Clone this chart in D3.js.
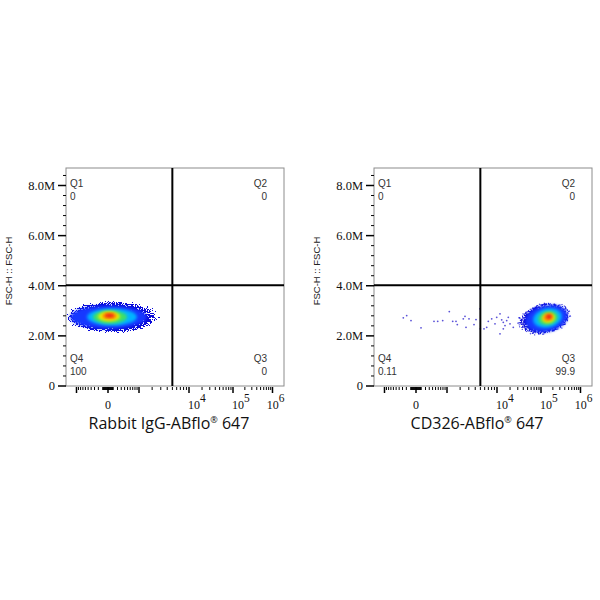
<!DOCTYPE html>
<html>
<head>
<meta charset="utf-8">
<script src="https://cdn.jsdelivr.net/npm/d3@7"></script>
<style>
  body { margin: 0; background: #fff; }
  svg { display: block; }
</style>
</head>
<body>
<svg id="chart" width="600" height="600"></svg>
<script>
/* axis ticks */
var yTickValues = [0, 2e6, 4e6, 6e6, 8e6];
var yTickLabels = ['0', '2.0M', '4.0M', '6.0M', '8.0M'];
var yMinorValues = [0.4e6, 0.8e6, 1.2e6, 1.6e6, 2.4e6, 2.8e6, 3.2e6, 3.6e6, 4.4e6, 4.8e6, 5.2e6, 5.6e6, 6.4e6, 6.8e6, 7.2e6, 7.6e6, 8.4e6];
var xTickValues = [0, 1e4, 1e5, 1e6];
var xTickExponents = [null, 4, 5, 6];
var xMajorUnlabeled = [-1000, 1000];
var xMinorValues = [-900, -800, -700, -600, -500, -400, -300, -200, -100, -90, -80, -70, -60, -50, -40, -30, -20, -10,
  10, 20, 30, 40, 50, 60, 70, 80, 90, 100, 200, 300, 400, 500, 600, 700, 800, 900,
  2000, 3000, 4000, 5000, 6000, 7000, 8000, 9000, 20000, 30000, 40000, 50000, 60000, 70000, 80000, 90000,
  200000, 300000, 400000, 500000, 600000, 700000, 800000, 900000];

/* quadrant gate and statistics */
var gateX = 5100;
var gateY = 4.0e6;
var quadrantNames = ['Q1', 'Q2', 'Q3', 'Q4'];
var leftQuadrantValues = ['0', '0', '0', '100'];
var rightQuadrantValues = ['0', '0', '99.9', '0.11'];
var axisTitles = ['Rabbit IgG-ABflo', 'CD326-ABflo'];

/* density levels (outer -> core), [low, high] extents */
var leftCloudX = [[-1700, 2960], [-1350, 1590], [-520, 920], [-330, 500], [-196, 279], [-106, 200], [-46, 130]];
var leftCloudY = [[2.07e6, 3.39e6], [2.27e6, 3.19e6], [2.39e6, 3.07e6], [2.47e6, 2.99e6], [2.55e6, 2.95e6], [2.63e6, 2.91e6], [2.71e6, 2.87e6]];
var rightCloudX = [[29600, 627500], [44900, 497000], [67900, 350500], [87900, 277600], [109100, 233000], [115700, 207400], [137900, 195600]];
var rightCloudY = [[2.03e6, 3.31e6], [2.15e6, 3.19e6], [2.31e6, 3.07e6], [2.42e6, 2.96e6], [2.50e6, 2.88e6], [2.57e6, 2.87e6], [2.65e6, 2.84e6]];

/* sparse events in the CD326 plot */
var rightTrailX = [-265, -180, -85, 108, 463, 598, 811, 1173, 1409, 1671, 1784, 2384, 2582, 2704, 3100, 3874, 4228, 5025, 5090, 5955, 6670, 7130,
  8210, 9400, 10110, 12070, 13210, 14390, 17220, 12070, 14390, 18740, 20500, 24380, 15740];
var rightTrailY = [2.70, 2.79, 2.59, 2.30, 2.56, 2.56, 2.59, 2.95, 2.56, 2.56, 2.43, 2.66, 2.76, 2.32, 2.66, 2.43, 2.63, 3.06, 2.26, 2.26, 2.32, 2.56,
  2.66, 2.46, 2.72, 2.86, 2.62, 2.52, 2.59, 2.06, 2.26, 2.72, 2.46, 2.32, 2.39].map(function(v) { return v * 1e6; });

var levelColors = ['#0a0ad8', '#1238ff', '#00b4ff', '#3ce068', '#e6f000', '#ff9400', '#f02414'];

var W = 218, H = 218;
var svg = d3.select('#chart');
var defs = svg.append('defs');

/* speckled outer halo of the density plot */
var grad = defs.append('radialGradient').attr('id', 'fade');
grad.append('stop').attr('offset', '0').attr('stop-color', '#000').attr('stop-opacity', 1);
grad.append('stop').attr('offset', '0.6').attr('stop-color', '#000').attr('stop-opacity', 1);
grad.append('stop').attr('offset', '0.85').attr('stop-color', '#000').attr('stop-opacity', 0.65);
grad.append('stop').attr('offset', '1').attr('stop-color', '#000').attr('stop-opacity', 0.25);

var sp = defs.append('filter').attr('id', 'speckle')
  .attr('x', '-10%').attr('y', '-10%').attr('width', '120%').attr('height', '120%')
  .attr('color-interpolation-filters', 'sRGB');
sp.append('feTurbulence').attr('type', 'fractalNoise').attr('baseFrequency', 0.75)
  .attr('numOctaves', 2).attr('seed', 7).attr('result', 'noise');
sp.append('feColorMatrix').attr('in', 'noise').attr('type', 'matrix')
  .attr('values', '0 0 0 0 0  0 0 0 0 0  0 0 0 0 0  1.6 0 0 0 -0.3').attr('result', 'na');
sp.append('feComposite').attr('in', 'SourceGraphic').attr('in2', 'na').attr('operator', 'arithmetic')
  .attr('k1', 0).attr('k2', 1).attr('k3', -1).attr('k4', 0).attr('result', 'diff');
sp.append('feComponentTransfer').attr('in', 'diff').attr('result', 'mask')
  .append('feFuncA').attr('type', 'discrete').attr('tableValues', '0 1 1 1 1 1 1 1 1 1');
sp.append('feFlood').attr('flood-color', levelColors[0]).attr('result', 'col');
sp.append('feComposite').attr('in', 'col').attr('in2', 'mask').attr('operator', 'in');

defs.append('filter').attr('id', 'soft').attr('x', '-30%').attr('y', '-30%').attr('width', '160%').attr('height', '160%')
  .append('feGaussianBlur').attr('stdDeviation', 1.6);

var panels = [
  { left: 66, top: 168, title: axisTitles[0], cloudX: leftCloudX, cloudY: leftCloudY, tilt: 0,
    stats: leftQuadrantValues, trailX: [], trailY: [] },
  { left: 374, top: 168, title: axisTitles[1], cloudX: rightCloudX, cloudY: rightCloudY, tilt: -12,
    stats: rightQuadrantValues, trailX: rightTrailX, trailY: rightTrailY }
];

panels.forEach(function(p, idx) {
  var g = svg.append('g').attr('transform', 'translate(' + p.left + ',' + p.top + ')');

  // biexponential-looking axis: symlog, calibrated piecewise on the decades
  var x = d3.scaleSymlog().constant(500)
    .domain([-1000, 0, 1000, 1e4, 1e5, 1e6])
    .range([10, 41.5, 72.5, 122.5, 166.5, 206]);
  var y = d3.scaleLinear().domain([0, 8e6]).range([217.5, 17]);

  var clipId = 'clip' + idx;
  defs.append('clipPath').attr('id', clipId)
    .append('rect').attr('width', W).attr('height', H);

  var plot = g.append('g').attr('clip-path', 'url(#' + clipId + ')');

  p.cloudX.forEach(function(ext, i) {
    var x0 = x(ext[0]), x1 = x(ext[1]);
    var y0 = y(p.cloudY[i][0]), y1 = y(p.cloudY[i][1]);
    var cx = (x0 + x1) / 2, cy = (y0 + y1) / 2;
    plot.append('ellipse')
      .attr('cx', cx).attr('cy', cy)
      .attr('rx', (x1 - x0) / 2).attr('ry', (y0 - y1) / 2)
      .attr('transform', 'rotate(' + p.tilt + ',' + cx + ',' + cy + ')')
      .attr('fill', i === 0 ? 'url(#fade)' : levelColors[i])
      .attr('filter', i === 0 ? 'url(#speckle)' : 'url(#soft)');
  });

  plot.selectAll('circle.ev')
    .data(p.trailX)
    .enter().append('circle')
    .attr('class', 'ev')
    .attr('cx', function(d) { return x(d); })
    .attr('cy', function(d, i) { return y(p.trailY[i]); })
    .attr('r', 0.9)
    .attr('fill', '#5a52d8');

  // box
  g.append('rect').attr('width', W).attr('height', H)
    .attr('fill', 'none').attr('stroke', '#8c8c8c').attr('stroke-width', 1);

  // quadrant gate
  g.append('line').attr('x1', x(gateX)).attr('x2', x(gateX)).attr('y1', 0).attr('y2', H)
    .attr('stroke', '#000').attr('stroke-width', 2);
  g.append('line').attr('x1', 0).attr('x2', W).attr('y1', y(gateY)).attr('y2', y(gateY))
    .attr('stroke', '#000').attr('stroke-width', 2);

  // y axis
  g.append('g')
    .call(d3.axisLeft(y).tickValues(yMinorValues).tickSize(3).tickFormat(''))
    .call(function(a) { a.select('.domain').remove(); });
  var ya = g.append('g')
    .call(d3.axisLeft(y).tickValues(yTickValues).tickSize(8).tickPadding(3)
      .tickFormat(function(d, i) { return yTickLabels[i]; }))
    .call(function(a) { a.select('.domain').remove(); });
  ya.selectAll('line').attr('stroke-width', 1.5);
  ya.selectAll('text').attr('font-family', '"Liberation Serif", serif').attr('font-size', 12.5).attr('fill', '#111');

  // x axis
  g.append('g').attr('transform', 'translate(0,' + (H + 1) + ')')
    .call(d3.axisBottom(x).tickValues(xMinorValues).tickSize(3).tickFormat(''))
    .call(function(a) { a.select('.domain').remove(); });
  var xa1 = g.append('g').attr('transform', 'translate(0,' + (H + 1) + ')')
    .call(d3.axisBottom(x).tickValues(xMajorUnlabeled).tickSize(6).tickFormat(''))
    .call(function(a) { a.select('.domain').remove(); });
  xa1.selectAll('line').attr('stroke-width', 1.5);
  var xa = g.append('g').attr('transform', 'translate(0,' + (H + 1) + ')')
    .call(d3.axisBottom(x).tickValues(xTickValues).tickSize(6)
      .tickFormat(function(d, i) { return xTickExponents[i] === null ? '0' : '10'; }))
    .call(function(a) { a.select('.domain').remove(); });
  xa.selectAll('line').attr('stroke-width', 1.5);
  xa.selectAll('text')
    .attr('y', 13)
    .attr('font-family', '"Liberation Serif", serif').attr('font-size', 12).attr('fill', '#111')
    .each(function(d, i) {
      var t = d3.select(this);
      if (xTickExponents[i] === null) return;
      t.attr('text-anchor', 'start').attr('x', -1);
      t.append('tspan').attr('dy', '-7').attr('font-size', 11.5).text(xTickExponents[i]);
      var len = this.getComputedTextLength();
      var over = x(d) - 1 + len - W;
      if (over > 0) t.attr('x', -1 - over);
    });

  // axis titles
  var title = g.append('text')
    .attr('x', W / 2 - 6).attr('y', 261)
    .attr('text-anchor', 'middle')
    .attr('font-family', '"Open Sans", sans-serif').attr('font-size', 16).attr('fill', '#111');
  title.append('tspan').text(p.title);
  title.append('tspan').attr('font-size', 9).attr('dy', -6).text('\u00AE');
  title.append('tspan').attr('dy', 6).text(' 647');

  g.append('text')
    .attr('transform', 'translate(-54,103) rotate(-90)')
    .attr('text-anchor', 'middle')
    .attr('font-family', '"Liberation Sans", sans-serif').attr('font-size', 9.5).attr('fill', '#222')
    .text('FSC-H :: FSC-H');

  // quadrant labels
  var qpos = [
    { x: 4, y: 19, anchor: 'start' },
    { x: W - 17, y: 19, anchor: 'end' },
    { x: W - 17, y: H - 24, anchor: 'end' },
    { x: 4, y: H - 24, anchor: 'start' }
  ];
  quadrantNames.forEach(function(q, i) {
    g.append('text').attr('x', qpos[i].x).attr('y', qpos[i].y)
      .attr('text-anchor', qpos[i].anchor)
      .attr('font-family', '"Liberation Sans", sans-serif').attr('font-size', 10).attr('fill', '#333')
      .text(q);
    g.append('text').attr('x', qpos[i].x).attr('y', qpos[i].y + 12.5)
      .attr('text-anchor', qpos[i].anchor)
      .attr('font-family', '"Liberation Sans", sans-serif').attr('font-size', 10).attr('fill', '#333')
      .text(p.stats[i]);
  });
});
</script>
</body>
</html>
